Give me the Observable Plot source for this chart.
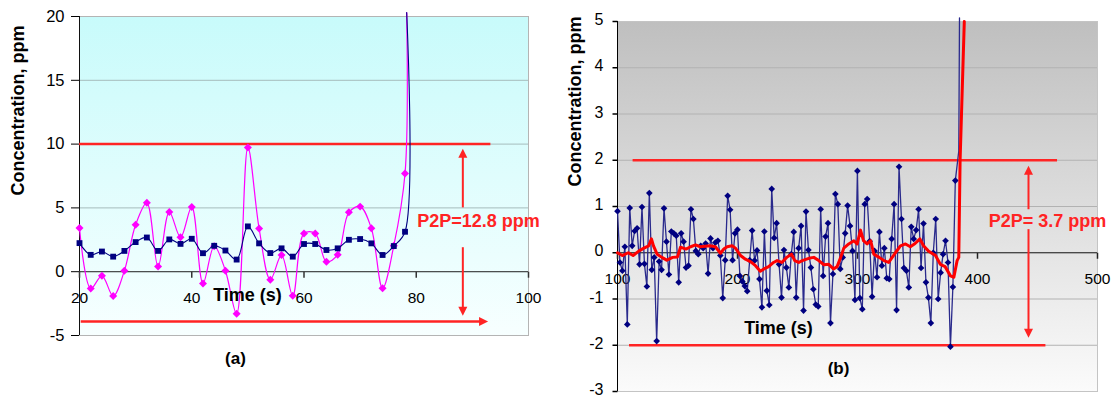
<!DOCTYPE html>
<html><head><meta charset="utf-8">
<script src="https://cdn.jsdelivr.net/npm/d3@7"></script>
<script src="https://cdn.jsdelivr.net/npm/@observablehq/plot@0.6"></script>
<style>
html,body{margin:0;padding:0;background:#fff;}
#wrap{position:relative;width:1114px;height:398px;overflow:hidden;}
#pa{position:absolute;left:0;top:0;}
#pb{position:absolute;left:555px;top:0;}
</style></head>
<body><div id="wrap"><div id="pa"></div><div id="pb"></div></div>
<script>
// ---------- Panel (a) data ----------
const timeA = [20,22,24,26,28,30,32,34,36,38,40,42,44,46,48,50,52,54,56,58,60,62,64,66,68,70,72,74,76,78,78.3];
const pinkA = [3.42,-1.32,-0.32,-1.9,0.08,3.68,5.4,0.4,4.68,2.7,5.08,-0.92,2.0,0.08,-3.3,9.74,3.39,-0.63,1.3,-1.88,3.0,3.0,0.78,1.33,4.65,5.1,3.4,-1.3,2.04,7.7,20.3];
const navyA = [2.24,1.32,1.58,1.18,1.63,2.32,2.68,1.63,2.53,2.18,2.58,1.45,2.03,1.66,0.95,3.55,2.22,1.46,1.83,1.18,2.17,2.17,1.7,1.83,2.5,2.56,2.22,1.31,2.01,3.13,20.3];
const xTicksA = [20,40,60,80,100];
const yTicksA = [-5,0,5,10,15,20];
const peakA = 10, troughA = -3.9;
const p2pLabelA = "P2P=12.8 ppm";

// ---------- Panel (b) data ----------
const startB = 100, sampleStepB = 2.04;
const blueB = [0.9,-0.21,-0.39,0.13,-1.55,0.97,0.15,0.47,0.53,-0.25,0.99,-0.24,-0.73,1.29,-0.37,-0.1,-1.91,-0.19,-0.37,0.96,
  0.24,-0.47,0.46,0.42,0.37,-0.64,0.42,0.24,-0.32,-0.28,0.94,0.73,0.04,-0.03,0.15,0.1,0.2,-0.45,0.31,0.1,
  0.22,0.26,-0.06,-0.98,-0.16,1.23,0.93,-0.16,0.42,0.5,-0.5,-0.62,-0.72,-0.83,-0.16,0.48,-0.17,0.05,-0.57,-1.18,
  0.46,-0.82,-1.13,1.38,0.32,0.64,-0.25,-0.97,0.06,-0.32,-0.75,-0.03,0.45,-0.97,0.1,0.58,-1.25,0.89,0.06,-0.32,
  -0.79,-1.12,-1.16,0.94,-0.5,0.35,0.64,-1.52,-0.46,1.27,1.05,-0.35,-0.1,0.42,1.02,0.58,0.04,-1.02,1.77,-0.98,
  -1.22,1.05,1.16,0.25,-0.95,0.04,-0.53,0.45,-0.28,0.1,-0.55,-0.57,0.3,1.05,-1.24,1.86,0.73,-0.33,-0.39,-0.75,
  0.56,0.3,0.49,0.94,-0.33,0.63,-0.64,-0.97,-1.52,0,0.73,-1.0,-0.43,-0.03,0.26,-0.21,-2.03,-0.74,1.56];
const blueTailT = [384.4,385];
const blueTailV = [2.2,5.08];
const avgT = [100,104,109,113,118,122,126,128.3,130,133,137,141,146,150,152.5,157,161,165,169,173,177,181.6,185.8,188.6,191.4,195.5,198.3,202.5,206.6,210.8,215,219,222,226,230,233,237,241,245,247.7,251,254,259.4,263.6,267.7,272,276,280,283,286,288.6,292.7,297,299.7,302.5,305,308,311,313.6,318,322,326,331.6,335.8,340,344,348,352,355,359,365,369,373,377.5,380.3,383,384.4,385.5,389];
const avgV = [0,-0.06,0,-0.06,0.04,0.1,0.15,0.3,0.15,-0.03,-0.1,-0.16,-0.1,-0.09,0.12,0.08,0.13,0.17,0.13,0.14,0.15,0.13,-0.01,0.08,0.13,0.15,0.1,-0.06,-0.14,-0.19,-0.28,-0.4,-0.35,-0.3,-0.21,-0.17,-0.21,-0.1,-0.03,-0.17,-0.21,-0.17,-0.12,-0.1,-0.17,-0.26,-0.25,-0.35,-0.3,-0.1,0.1,0.19,0.26,0.19,0.49,0.26,0.19,0.26,-0.03,-0.1,-0.17,-0.21,0,0.15,0.19,0.13,0.2,0.3,0.15,0.04,-0.06,-0.25,-0.3,-0.5,-0.53,-0.17,-0.1,2,5];
const xTicksB = [100,200,300,400,500];
const yTicksB = [-3,-2,-1,0,1,2,3,4,5];
const peakB = 2, troughB = -2;
const p2pLabelB = "P2P= 3.7 ppm";

const axisTitleY = "Concentration, ppm";
const axisTitleX = "Time (s)";
const panelLabels = ["(a)", "(b)"];

// ---------- helpers ----------
const RED = "#ff2424";
const FONT = "'Liberation Sans', Arial, Helvetica, sans-serif";
const upHead = {draw(c){c.moveTo(0,0);c.lineTo(4.5,9);c.lineTo(-4.5,9);c.closePath();}};
const downHead = {draw(c){c.moveTo(0,0);c.lineTo(4.5,-9);c.lineTo(-4.5,-9);c.closePath();}};
const rightHead = {draw(c){c.moveTo(0,0);c.lineTo(-9,-4.5);c.lineTo(-9,4.5);c.closePath();}};
const tickDown = {draw(c){c.moveTo(0,0);c.lineTo(0,6);}};
const tickLeft = {draw(c){c.moveTo(0,0);c.lineTo(-5,0);}};

function addGradient(svg, id, stops) {
  const defs = d3.select(svg).insert("defs", ":first-child");
  const g = defs.append("linearGradient").attr("id", id)
    .attr("x1", 0).attr("y1", 0).attr("x2", 0).attr("y2", 1);
  stops.forEach(([o, c]) => g.append("stop").attr("offset", o).attr("stop-color", c));
}

// ---------- Panel (a) ----------
const dataA = timeA.map((t, i) => ({t, pink: pinkA[i], navy: navyA[i]}));
const ptsA = dataA.slice(0, dataA.length - 1);

const svgA = Plot.plot({
  width: 555, height: 398,
  marginLeft: 79, marginRight: 27, marginTop: 16, marginBottom: 63,
  style: {fontFamily: FONT, fontSize: "16.5px", color: "#000", background: "transparent", overflow: "visible"},
  x: {domain: [20, 100], axis: null},
  y: {domain: [-5, 20], ticks: yTicksA, tickSize: 8, tickPadding: 7, label: null, tickFormat: d => String(d)},
  marks: [
    Plot.frame({fill: "url(#gradA)", stroke: "none"}),
    Plot.ruleY(yTicksA, {stroke: "#a6bcbc", strokeWidth: 1}),
    Plot.frame({stroke: "#b4b4b4"}),
    Plot.ruleX([20], {stroke: "#111"}),
    Plot.ruleY([0], {stroke: "#333"}),
    Plot.dot(xTicksA, {x: d => d, y: 0, symbol: tickDown, stroke: "#333", fill: "none", r: 3}),
    Plot.text(xTicksA, {x: d => d, y: 0, dy: 26, text: d => String(d), fontSize: 15.5}),
    // reference levels and arrows
    Plot.ruleY([peakA], {x1: 20, x2: 93.3, stroke: RED, strokeWidth: 2.5}),
    Plot.ruleY([troughA], {x1: 20.3, x2: 92, stroke: RED, strokeWidth: 2.5}),
    Plot.dot([troughA], {x: 92.8, y: d => d, symbol: rightHead, fill: RED, stroke: "none", r: 5}),
    Plot.ruleX([88.3], {y1: 5.0, y2: 9.2, stroke: RED, strokeWidth: 2}),
    Plot.ruleX([88.3], {y1: -3.0, y2: 1.88, stroke: RED, strokeWidth: 2}),
    Plot.dot([9.64], {x: 88.3, y: d => d, symbol: upHead, fill: RED, stroke: "none", r: 5}),
    Plot.dot([-3.45], {x: 88.3, y: d => d, symbol: downHead, fill: RED, stroke: "none", r: 5}),
    // series
    Plot.line(dataA, {x: "t", y: "pink", stroke: "#ff00ff", strokeWidth: 1.2, curve: "catmull-rom"}),
    Plot.dot(ptsA, {x: "t", y: "pink", symbol: "diamond2", r: 3.6, fill: "#ff00ff", stroke: "none"}),
    Plot.line(dataA, {x: "t", y: "navy", stroke: "#000080", strokeWidth: 1.1, curve: "catmull-rom"}),
    Plot.dot(ptsA, {x: "t", y: "navy", symbol: "square", r: 3.3, fill: "#000080", stroke: "none"}),
    // texts
    Plot.text([p2pLabelA], {x: 91.1, y: 3.92, text: d => d, fill: RED, fontWeight: "bold", fontSize: 18}),
    Plot.text([axisTitleX], {frameAnchor: "bottom", lineAnchor: "middle", dx: -56.5, dy: -40, text: d => d, fontWeight: "bold", fontSize: 18}),
    Plot.text([axisTitleY], {frameAnchor: "left", rotate: -90, dx: -61, dy: 19.5, text: d => d, fontWeight: "bold", fontSize: 18}),
    Plot.text([panelLabels[0]], {frameAnchor: "bottom", lineAnchor: "middle", dx: -68.5, dy: 23, text: d => d, fontWeight: "bold", fontSize: 17})
  ]
});
addGradient(svgA, "gradA", [[0, "#c8fbfb"], [1, "#f7ffff"]]);
document.getElementById("pa").appendChild(svgA);

// ---------- Panel (b) ----------
const dataB = blueB.map((v, i) => ({t: startB + i * sampleStepB, v}));
const lineB = dataB.concat(blueTailT.map((t, i) => ({t, v: blueTailV[i]})));
const avgB = avgT.map((t, i) => ({t, v: avgV[i]}));

const svgB = Plot.plot({
  width: 559, height: 398,
  marginLeft: 62, marginRight: 17, marginTop: 21, marginBottom: 7,
  style: {fontFamily: FONT, fontSize: "16px", color: "#000", background: "transparent", overflow: "visible"},
  x: {domain: [100, 500], axis: null},
  y: {domain: [-3, 5], axis: null},
  marks: [
    Plot.frame({fill: "url(#gradB)", stroke: "none"}),
    Plot.ruleY(yTicksB, {stroke: "#b2b2b2", strokeWidth: 1}),
    Plot.frame({stroke: "#c4c4c4"}),
    Plot.ruleX([100], {stroke: "#000"}),
    Plot.ruleY([0], {stroke: "#222"}),
    // y axis ticks and labels
    Plot.dot(yTicksB, {x: 100, y: d => d, symbol: tickLeft, stroke: "#000", fill: "none", r: 3}),
    Plot.text(yTicksB, {x: 100, y: d => d, dx: -14, dy: -1.5, textAnchor: "end", text: d => String(d), fontSize: 16}),
    // x axis ticks and labels
    Plot.dot(xTicksB, {x: d => d, y: 0, symbol: tickDown, stroke: "#222", fill: "none", r: 3}),
    Plot.text(xTicksB, {x: d => d, y: 0, dy: 26, text: d => String(d), fontSize: 15.5}),
    // reference levels
    Plot.ruleY([peakB], {x1: 113, x2: 466.7, stroke: RED, strokeWidth: 2.5}),
    Plot.ruleY([troughB], {x1: 110, x2: 457, stroke: RED, strokeWidth: 2.5}),
    // series
    Plot.line(lineB, {x: "t", y: "v", stroke: "#2a2a8c", strokeWidth: 1.3}),
    Plot.dot(dataB, {x: "t", y: "v", symbol: "diamond2", r: 3, fill: "#000080", stroke: "none"}),
    Plot.line(avgB, {x: "t", y: "v", stroke: "#ff0000", strokeWidth: 3}),
    // arrow
    Plot.ruleX([442.5], {y1: 0.93, y2: 1.7, stroke: RED, strokeWidth: 2}),
    Plot.ruleX([442.5], {y1: -1.7, y2: 0.5, stroke: RED, strokeWidth: 2}),
    Plot.dot([1.88], {x: 442.5, y: d => d, symbol: upHead, fill: RED, stroke: "none", r: 5}),
    Plot.dot([-1.84], {x: 442.5, y: d => d, symbol: downHead, fill: RED, stroke: "none", r: 5}),
    // texts
    Plot.text([p2pLabelB], {x: 458.3, y: 0.69, text: d => d, fill: RED, fontWeight: "bold", fontSize: 18}),
    Plot.text([axisTitleX], {frameAnchor: "bottom", lineAnchor: "middle", dx: -79, dy: -63, text: d => d, fontWeight: "bold", fontSize: 18}),
    Plot.text([axisTitleY], {frameAnchor: "left", rotate: -90, dx: -42, dy: -20, text: d => d, fontWeight: "bold", fontSize: 18}),
    Plot.text([panelLabels[1]], {frameAnchor: "bottom", lineAnchor: "middle", dx: -19, dy: -23, text: d => d, fontWeight: "bold", fontSize: 17})
  ]
});
addGradient(svgB, "gradB", [[0, "#bfbfbf"], [1, "#fbfbfb"]]);
document.getElementById("pb").appendChild(svgB);
</script>
</body></html>
